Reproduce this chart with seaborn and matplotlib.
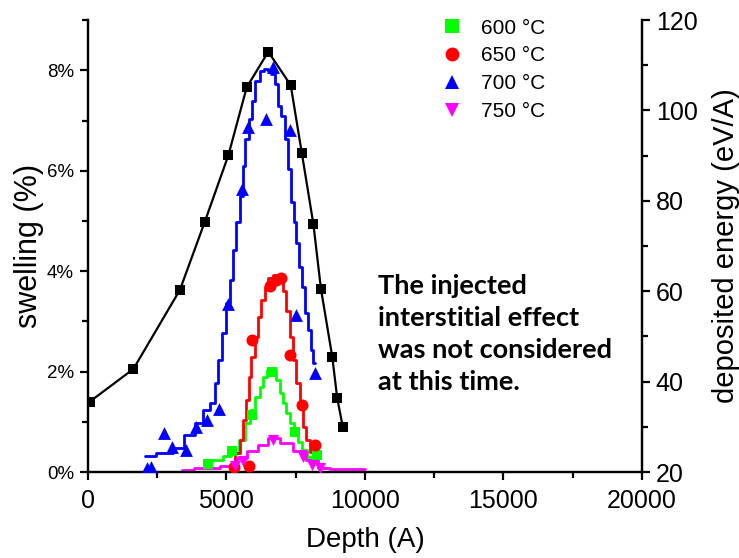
import matplotlib
matplotlib.use("Agg")
import matplotlib.pyplot as plt
from matplotlib.lines import Line2D
from matplotlib.ticker import MultipleLocator, FuncFormatter
import seaborn as sns

# Deposited energy profile (right axis, eV/A)
energy_depth = [70, 1640, 3320, 4220, 5070, 5730, 6510, 7320, 7720, 8140, 8410, 8820, 9000, 9200]
energy_value = [35.6, 42.8, 60.3, 75.4, 90.1, 105.1, 113.0, 105.6, 90.6, 74.8, 60.6, 45.5, 36.3, 30.0]

# Measured swelling (%) for each irradiation temperature
t600_depth = [4340, 5190, 5910, 6630, 7470, 8260]
t600_swell = [0.17, 0.41, 1.14, 2.00, 0.80, 0.34]

t650_depth = [5270, 5810, 5910, 6570, 6790, 6960, 7290, 7720, 8200]
t650_swell = [0.10, 0.12, 2.63, 3.70, 3.83, 3.87, 2.34, 1.34, 0.54]

t700_depth = [2130, 2270, 2740, 3030, 3540, 3900, 4300, 4730, 5050, 5560,
              5780, 6430, 6680, 7290, 7510, 8200]
t700_swell = [0.08, 0.10, 0.78, 0.50, 0.44, 0.90, 1.04, 1.26, 3.35, 5.63,
              6.87, 7.03, 8.06, 6.81, 3.13, 1.98]

t750_depth = [5310, 5600, 6680, 7760, 8090, 8370]
t750_swell = [0.12, 0.22, 0.64, 0.30, 0.14, 0.08]

# Model swelling profiles (stepped curves)
m600_depth = [4224, 4765, 5018, 5307, 5596, 5776, 5957, 6137, 6282, 6390, 6570,
              6751, 6859, 7004, 7112, 7220, 7364, 7545, 7653, 7834, 8014, 8195]
m600_swell = [0.21, 0.24, 0.31, 0.38, 0.64, 0.98, 1.24, 1.50, 1.70, 1.90, 2.04,
              2.04, 1.84, 1.58, 1.38, 1.18, 0.98, 0.78, 0.60, 0.44, 0.30, 0.24]

m650_depth = [5235, 5415, 5559, 5668, 5776, 5848, 5957, 6101, 6209, 6318, 6462, 6570,
              6823, 7004, 7112, 7220, 7364, 7473, 7581, 7726, 7834, 7942, 8086, 8195]
m650_swell = [0.18, 0.38, 0.64, 1.04, 1.44, 1.90, 2.30, 2.69, 3.09, 3.43, 3.69, 3.87,
              3.93, 3.89, 3.61, 3.21, 2.69, 2.24, 1.78, 1.30, 0.90, 0.64, 0.40, 0.30]

m700_depth = [2058, 2888, 3249, 3682, 4043, 4296, 4513, 4657, 4765, 4946, 5054, 5198,
              5307, 5415, 5559, 5632, 5740, 5884, 5957, 6137, 6282, 6462, 6570, 6679,
              6823, 6931, 7040, 7184, 7292, 7400, 7473, 7581, 7689, 7762, 7906, 8014,
              8086, 8195]
m700_swell = [0.32, 0.38, 0.48, 0.74, 0.98, 1.24, 1.38, 1.78, 2.24, 2.77, 3.37, 3.83,
              4.43, 4.97, 5.49, 6.09, 6.63, 7.03, 7.39, 7.78, 7.98, 8.02, 7.98, 7.92,
              7.72, 7.29, 7.09, 6.63, 6.03, 5.37, 4.97, 4.57, 4.09, 3.69, 3.17, 2.83,
              2.44, 2.18]

m750_depth = [3393, 4296, 5235, 5559, 5957, 6318, 6679, 7184, 7653, 8122, 8484, 8989, 10000]
m750_swell = [0.04, 0.08, 0.12, 0.28, 0.41, 0.54, 0.67, 0.58, 0.41, 0.24, 0.08, 0.06, 0.06]

labels = ["600 °C", "650 °C", "700 °C", "750 °C"]
colors = ["#00ff00", "#ff0000", "#0000ff", "#ff00ff"]
markers = ["s", "o", "^", "v"]
sizes = [55, 75, 85, 65]

sns.set_style("ticks")
plt.rcParams["font.family"] = ["Liberation Sans", "DejaVu Sans"]
for key in ("text.color", "axes.labelcolor", "xtick.color", "ytick.color"):
    plt.rcParams[key] = "black"

fig = plt.figure(figsize=(7.39, 5.58), dpi=100)
ax = fig.add_axes([0.119, 0.154, 0.7497, 0.810])
ax2 = ax.twinx()

# energy curve on the right axis
sns.lineplot(x=energy_depth, y=energy_value, ax=ax2, color="black", lw=1.6,
             marker="s", markersize=7.5, markeredgewidth=0)

model = [(m600_depth, m600_swell), (m650_depth, m650_swell),
         (m700_depth, m700_swell), (m750_depth, m750_swell)]
meas = [(t600_depth, t600_swell), (t650_depth, t650_swell),
        (t700_depth, t700_swell), (t750_depth, t750_swell)]

for (md, ms), (d, s), c, mk, sz in zip(model, meas, colors, markers, sizes):
    sns.lineplot(x=md, y=ms, ax=ax, color=c, lw=2.0, drawstyle="steps-mid")
    sns.scatterplot(x=d, y=s, ax=ax, color=c, marker=mk, s=sz, linewidth=0, zorder=4)

ax.set_zorder(ax2.get_zorder() + 1)
ax.patch.set_visible(False)

ax.set_xlim(0, 20000)
ax.set_ylim(0, 9)
ax2.set_ylim(20, 120)

ax.xaxis.set_major_locator(MultipleLocator(5000))
ax.xaxis.set_minor_locator(MultipleLocator(2500))
ax.yaxis.set_major_locator(MultipleLocator(2))
ax.yaxis.set_minor_locator(MultipleLocator(1))
ax.yaxis.set_major_formatter(FuncFormatter(lambda v, p: f"{v:g}%"))
ax2.yaxis.set_major_locator(MultipleLocator(20))
ax2.yaxis.set_minor_locator(MultipleLocator(10))

for a in (ax, ax2):
    a.spines["top"].set_visible(False)
    for sp in a.spines.values():
        sp.set_linewidth(1.6)
        sp.set_color("black")
    a.tick_params(which="major", length=6, width=1.6, color="black")
    a.tick_params(which="minor", length=4, width=1.6, color="black")

ax.tick_params(axis="x", labelsize=18, pad=6)
ax.tick_params(axis="y", labelsize=13.5, pad=4)
ax2.tick_params(axis="y", labelsize=18, pad=4)
ax.tick_params(axis="y", which="both", right=False)

ax.set_xlabel("Depth (A)", fontsize=20, labelpad=10)
ax.set_ylabel("swelling (%)", fontsize=22, labelpad=2)
ax2.set_ylabel("deposited energy (eV/A)", fontsize=21, labelpad=10)

handles = [Line2D([], [], ls="none", marker=mk, color=c, markersize=10,
                  markeredgewidth=0)
           for mk, c in zip(markers, colors)]
ax.legend(handles, labels, loc="upper left", bbox_to_anchor=(0.572, 1.0),
          bbox_transform=fig.transFigure, frameon=False, fontsize=15,
          handletextpad=0.9, labelspacing=0.42, handlelength=1.0)

ax.text(378, 284, "The injected\ninterstitial effect\nwas not considered\nat this time.",
        transform=None, fontsize=19.5, fontweight="bold", family="Lato",
        va="top", ha="left", linespacing=1.4)

fig.savefig("out.png", dpi=100)
